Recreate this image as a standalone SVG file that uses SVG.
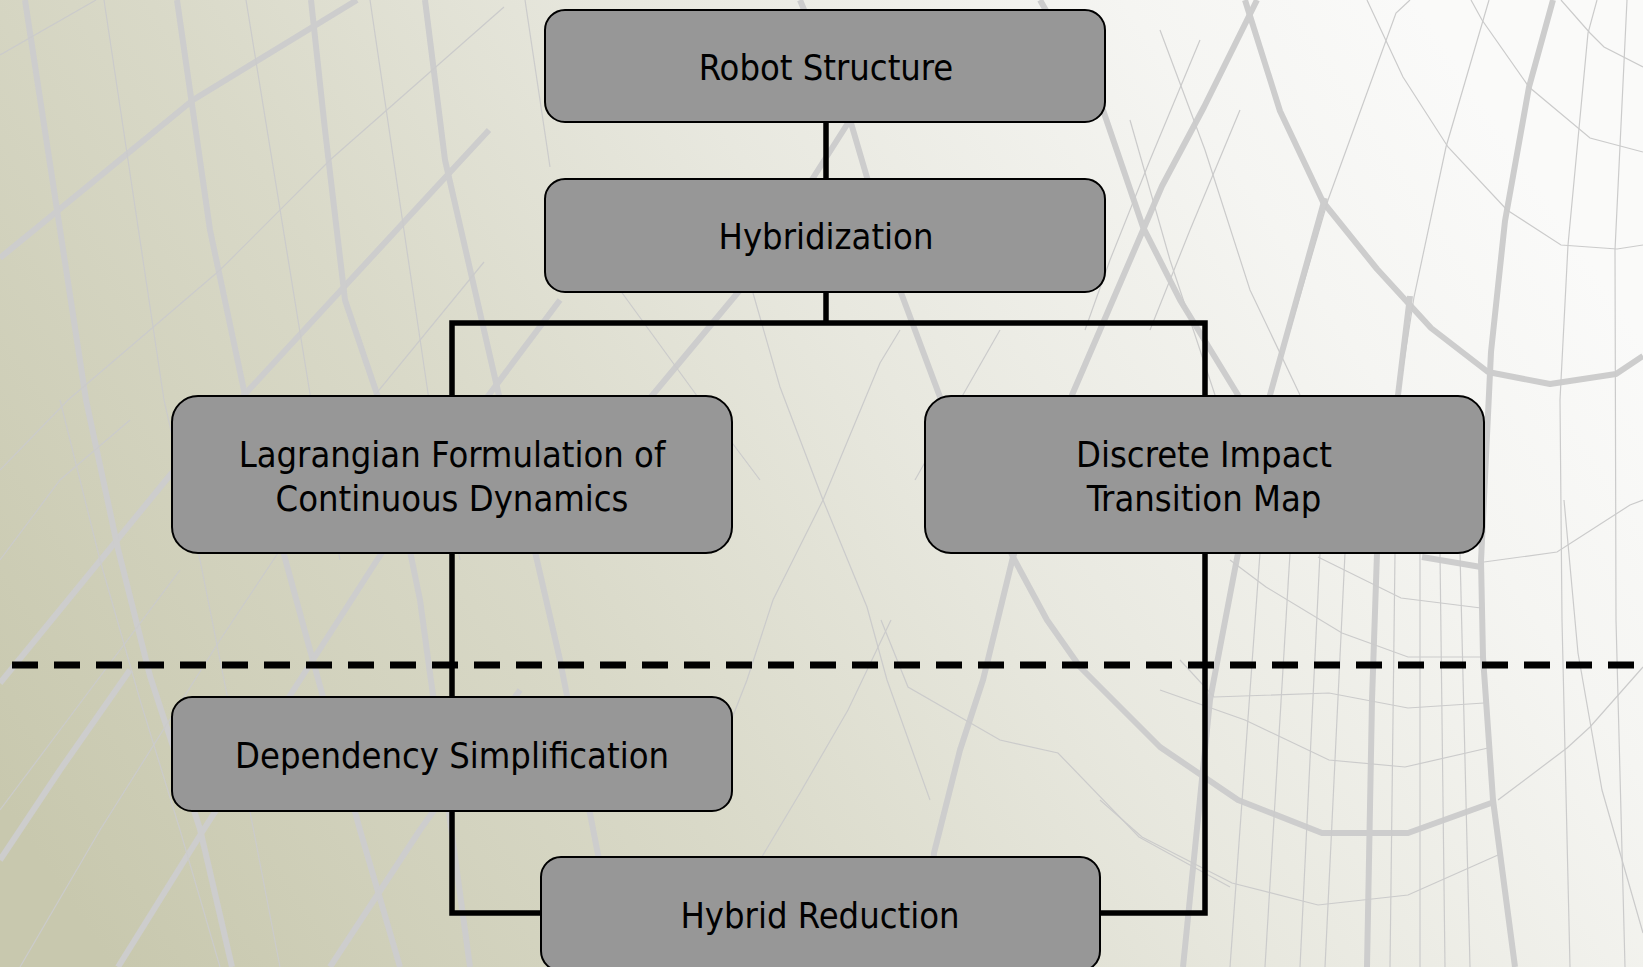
<svg xmlns="http://www.w3.org/2000/svg" width="1643" height="967" viewBox="0 0 1643 967">
  <defs>
    <linearGradient id="bg" gradientUnits="userSpaceOnUse" x1="100" y1="950" x2="1450" y2="50">
      <stop offset="0" stop-color="#c8c8ae"/>
      <stop offset="0.35" stop-color="#d9d9c8"/>
      <stop offset="0.6" stop-color="#e8e8df"/>
      <stop offset="0.85" stop-color="#f5f5f2"/>
      <stop offset="1" stop-color="#fafaf9"/>
    </linearGradient>
    <style>
      .mesh-thick { fill: none; stroke: #cdcdcd; stroke-width: 6; stroke-linejoin: round; }
      .mesh-thin { fill: none; stroke: #cbcbcb; stroke-width: 1.2; }
      .box { fill: #979797; stroke: #000; stroke-width: 2; }
      .label { font-family: "DejaVu Sans Condensed", "DejaVu Sans", sans-serif; font-stretch: condensed; font-size: 36px; fill: #000; text-anchor: middle; }
      .wire { fill: none; stroke: #000; stroke-width: 5.5; stroke-linejoin: miter; }
      .divider { fill: none; stroke: #000; stroke-width: 7; stroke-dasharray: 26 16; }
    </style>
  </defs>

  <!-- backdrop -->
  <rect x="0" y="0" width="1643" height="967" fill="url(#bg)"/>

  <g id="backdrop-mesh">
    <!-- heavy strands -->
    <path class="mesh-thick" d="M0,258 L193,100 L357,0"/>
    <path class="mesh-thick" d="M0,683 L171,474 L246,393 L489,130"/>
    <path class="mesh-thick" d="M25,0 L86,400 L118,549 L150,676 L200,829 L232,967"/>
    <path class="mesh-thick" d="M177,0 L210,230 L246,400 L280,540 L310,650 L360,830 L400,967"/>
    <path class="mesh-thick" d="M311,0 L325,130 L345,300 L379,400 L420,600 L470,967"/>
    <path class="mesh-thick" d="M425,0 L445,160 L500,400 L560,660 L620,967"/>
    <path class="mesh-thick" d="M118,967 L204,829 L300,680 L390,540 L470,420 L560,300"/>
    <path class="mesh-thick" d="M0,860 L60,770 L130,670"/>
    <path class="mesh-thick" d="M330,967 L420,830 L520,690"/>
    <path class="mesh-thick" d="M800,0 L851,123 L900,290 L940,397 L1013,557 L1047,620 L1080,667 L1160,747 L1238,800 L1322,833 L1408,833 L1494,802"/>
    <path class="mesh-thick" d="M1257,0 L1204,107 L1162,186 L1100,330 L1072,395 L1013,557 L983,680 L960,750 L934,853 L925,967"/>
    <path class="mesh-thick" d="M1245,0 L1280,111 L1323,202 L1377,269 L1431,328 L1488,372 L1550,384 L1616,374 L1643,356"/>
    <path class="mesh-thick" d="M1553,0 L1529,87 L1505,221 L1491,352 L1481,561 L1483,657 L1493,800 L1515,967"/>
    <path class="mesh-thick" d="M1410,296 L1398,395 L1385,480 L1377,553 L1372,700 L1367,967"/>
    <path class="mesh-thick" d="M1325,198 L1270,395 L1238,553 L1210,700 L1183,967"/>
    <path class="mesh-thick" d="M1040,0 L1103,110 L1143,227 L1180,300 L1238,395 L1290,480"/>
    <path class="mesh-thick" d="M880,40 L848,123 L813,178 L740,290 L650,398"/>
    <path class="mesh-thick" d="M1422,557 L1481,567"/>

    <!-- fine strands -->
    <path class="mesh-thin" d="M0,55 L96,0"/>
    <path class="mesh-thin" d="M504,7 L330,160 L220,270 L68,400 L0,470"/>
    <path class="mesh-thin" d="M484,262 L379,390 L330,460"/>
    <path class="mesh-thin" d="M104,0 L164,400 L200,560 L240,760 L280,967"/>
    <path class="mesh-thin" d="M246,0 L311,400 L340,560"/>
    <path class="mesh-thin" d="M370,0 L429,400 L460,560"/>
    <path class="mesh-thin" d="M525,0 L550,167"/>
    <path class="mesh-thin" d="M0,810 L90,690 L180,570"/>
    <path class="mesh-thin" d="M20,967 L100,830 L220,640 L300,520"/>
    <path class="mesh-thin" d="M60,400 L100,560 L140,700 L180,830 L220,967"/>
    <path class="mesh-thin" d="M0,560 L60,480 L130,420"/>
    <path class="mesh-thin" d="M753,293 L780,387 L823,500 L867,607 L887,680 L930,800"/>
    <path class="mesh-thin" d="M900,330 L880,363 L823,500 L773,600 L747,680 L700,800"/>
    <path class="mesh-thin" d="M620,290 L700,400 L760,480"/>
    <path class="mesh-thin" d="M1000,330 L960,400 L915,480"/>
    <path class="mesh-thin" d="M891,620 L848,710 L800,793 L760,860"/>
    <path class="mesh-thin" d="M881,620 L908,687 L1000,740 L1058,753 L1139,837 L1230,887"/>
    <path class="mesh-thin" d="M1471,0 L1482,20 L1529,87 L1590,138 L1643,152"/>
    <path class="mesh-thin" d="M1561,0 L1590,33 L1604,47 L1643,67"/>
    <path class="mesh-thin" d="M1367,0 L1403,77 L1448,147 L1507,210 L1561,245 L1617,249 L1643,245"/>
    <path class="mesh-thin" d="M1597,0 L1588,33 L1568,245 L1560,400 L1562,620 L1570,967"/>
    <path class="mesh-thin" d="M1627,0 L1615,250 L1616,620 L1625,967"/>
    <path class="mesh-thin" d="M1489,0 L1446,147 L1414,297 L1398,400"/>
    <path class="mesh-thin" d="M1410,0 L1396,13 L1328,200 L1290,330"/>
    <path class="mesh-thin" d="M1318,557 L1401,598 L1481,608"/>
    <path class="mesh-thin" d="M1230,560 L1266,587 L1342,633 L1408,657 L1483,657"/>
    <path class="mesh-thin" d="M1180,660 L1214,697 L1329,693 L1408,708 L1484,703"/>
    <path class="mesh-thin" d="M1160,690 L1245,720 L1329,760 L1405,767 L1488,748"/>
    <path class="mesh-thin" d="M1100,800 L1142,837 L1232,883 L1318,905 L1408,895 L1498,855"/>
    <path class="mesh-thin" d="M1498,800 L1567,748 L1590,727 L1643,667"/>
    <path class="mesh-thin" d="M1484,562 L1557,552 L1630,505 L1643,500"/>
    <path class="mesh-thin" d="M1564,500 L1578,653 L1602,790 L1643,933"/>
    <path class="mesh-thin" d="M1260,553 L1230,967"/>
    <path class="mesh-thin" d="M1290,553 L1265,967"/>
    <path class="mesh-thin" d="M1320,553 L1300,967"/>
    <path class="mesh-thin" d="M1345,553 L1325,967"/>
    <path class="mesh-thin" d="M1395,553 L1390,967"/>
    <path class="mesh-thin" d="M1420,553 L1420,967"/>
    <path class="mesh-thin" d="M1440,553 L1445,967"/>
    <path class="mesh-thin" d="M1460,553 L1470,967"/>
    <path class="mesh-thin" d="M1130,120 L1170,260 L1215,395"/>
    <path class="mesh-thin" d="M1160,30 L1205,150 L1250,290 L1300,395"/>
    <path class="mesh-thin" d="M1200,40 L1150,160 L1110,260 L1085,330"/>
    <path class="mesh-thin" d="M1240,110 L1190,230 L1150,330"/>
  </g>

  <g id="connectors">
    <path class="wire" d="M826,122 V178"/>
    <path class="wire" d="M826,292 V323"/>
    <path class="wire" d="M452,396 V323 H1205 V396"/>
    <path class="wire" d="M452,553 V697"/>
    <path class="wire" d="M452,811 V913 H541"/>
    <path class="wire" d="M1205,553 V913 H1100"/>
    <path class="divider" d="M12,665 H1643"/>
  </g>

  <g id="robot-structure">
    <rect class="box" x="545" y="10" width="560" height="112" rx="20"/>
    <text class="label" x="826" y="80">Robot Structure</text>
  </g>

  <g id="hybridization">
    <rect class="box" x="545" y="179" width="560" height="113" rx="20"/>
    <text class="label" x="826" y="249">Hybridization</text>
  </g>

  <g id="lagrangian">
    <rect class="box" x="172" y="396" width="560" height="157" rx="26"/>
    <text class="label" x="452" y="467">Lagrangian Formulation of</text>
    <text class="label" x="452" y="511">Continuous Dynamics</text>
  </g>

  <g id="discrete-impact">
    <rect class="box" x="925" y="396" width="559" height="157" rx="26"/>
    <text class="label" x="1204" y="467">Discrete Impact</text>
    <text class="label" x="1204" y="511">Transition Map</text>
  </g>

  <g id="dependency-simplification">
    <rect class="box" x="172" y="697" width="560" height="114" rx="20"/>
    <text class="label" x="452" y="768">Dependency Simplification</text>
  </g>

  <g id="hybrid-reduction">
    <rect class="box" x="541" y="857" width="559" height="114" rx="20"/>
    <text class="label" x="820" y="928">Hybrid Reduction</text>
  </g>
</svg>
